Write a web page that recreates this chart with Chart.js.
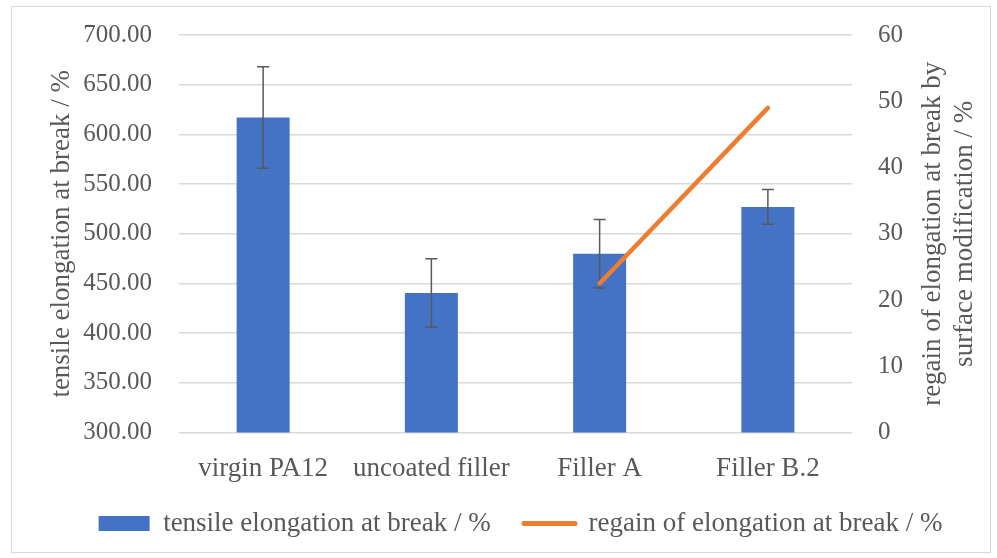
<!DOCTYPE html>
<html lang="en">
<head>
<meta charset="UTF-8">
<script src="https://cdn.jsdelivr.net/npm/chart.js"></script>
<title>Elongation at break</title>
<style>
    html, body { margin: 0; padding: 0; background: #fff; }
    #wrap { position: relative; width: 997px; height: 558px; }
    #frame { position: absolute; left: 11px; top: 6px; width: 978px; height: 545px; border: 1px solid #d9d9d9; }
    canvas { position: absolute; left: 0; top: 0; }
</style>
</head>
<body>
<div id="wrap">
    <div id="frame"></div>
    <canvas id="grafico" width="997" height="558"></canvas>
</div>
<script>
    // valores
    const categorias = ['virgin PA12', 'uncoated filler', 'Filler A', 'Filler B.2'];
    const alongamento = [617, 440.5, 480, 527];
    const desvio = [51, 34.5, 34.5, 17.5];
    const recuperacao = [null, null, 22.5, 49];
    const ticksEsq = [300, 350, 400, 450, 500, 550, 600, 650, 700];
    const ticksDir = [0, 10, 20, 30, 40, 50, 60];

    const cinza = '#595959';
    const fonte = 'Liberation Serif';

    const barrasErro = {
        id: 'barrasErro',
        afterDatasetDraw(chart, args) {
            if (args.index !== 0) return;
            const ctx = chart.ctx;
            const y = chart.scales.y;
            ctx.save();
            ctx.strokeStyle = cinza;
            ctx.lineWidth = 1.5;
            args.meta.data.forEach((barra, i) => {
                const topo = y.getPixelForValue(alongamento[i] + desvio[i]);
                const base = y.getPixelForValue(alongamento[i] - desvio[i]);
                ctx.beginPath();
                ctx.moveTo(barra.x, topo); ctx.lineTo(barra.x, base);
                ctx.moveTo(barra.x - 6, topo); ctx.lineTo(barra.x + 6, topo);
                ctx.moveTo(barra.x - 6, base); ctx.lineTo(barra.x + 6, base);
                ctx.stroke();
            });
            ctx.restore();
        }
    };

    // titulo do eixo direito, girado como o da esquerda
    const tituloDireita = {
        id: 'tituloDireita',
        afterDraw(chart) {
            const ctx = chart.ctx;
            const area = chart.chartArea;
            const meio = (area.top + area.bottom) / 2;
            ctx.save();
            ctx.fillStyle = cinza;
            ctx.font = '27px "' + fonte + '"';
            ctx.textAlign = 'center';
            ctx.textBaseline = 'middle';
            ctx.translate(area.right + 81, meio);
            ctx.rotate(-Math.PI / 2);
            ctx.fillText('regain of elongation at break by', 0, 0);
            ctx.fillText('surface modification / %', 0, 32);
            ctx.restore();
        }
    };

    new Chart(document.getElementById('grafico'), {
        type: 'bar',
        data: {
            labels: categorias,
            datasets: [{
                label: 'tensile elongation at break / %   ',
                data: alongamento,
                backgroundColor: '#4472C4',
                barPercentage: 0.315,
                categoryPercentage: 1,
                yAxisID: 'y',
                order: 1
            }, {
                type: 'line',
                label: 'regain of elongation at break / %',
                data: recuperacao,
                borderColor: '#ED7D31',
                backgroundColor: '#ED7D31',
                borderWidth: 4.5,
                borderCapStyle: 'round',
                pointRadius: 0,
                yAxisID: 'y1',
                order: 0
            }]
        },
        options: {
            responsive: false,
            animation: false,
            layout: { padding: { top: 35, bottom: 11, left: 44, right: 0 } },
            plugins: {
                tooltip: { enabled: false },
                legend: {
                    position: 'bottom',
                    labels: {
                        color: cinza,
                        font: { family: fonte, size: 27 },
                        usePointStyle: true,
                        pointStyleWidth: 51,
                        boxHeight: 15,
                        padding: 13,
                        generateLabels(chart) {
                            return chart.data.datasets.map((ds, i) => ({
                                text: ds.label,
                                datasetIndex: i,
                                fillStyle: ds.backgroundColor,
                                strokeStyle: ds.type === 'line' ? ds.borderColor : ds.backgroundColor,
                                lineWidth: ds.type === 'line' ? 5 : 0,
                                lineCap: 'round',
                                pointStyle: ds.type === 'line' ? 'line' : 'rect',
                                fontColor: cinza
                            }));
                        }
                    }
                }
            },
            scales: {
                x: {
                    grid: { display: false },
                    border: { display: false },
                    ticks: { color: cinza, font: { family: fonte, size: 27 }, padding: 12 }
                },
                y: {
                    position: 'left',
                    min: 300,
                    max: 700,
                    afterBuildTicks(eixo) { eixo.ticks = ticksEsq.map(v => ({ value: v })); },
                    afterFit(eixo) { eixo.width = 135; eixo.paddingTop = 0; eixo.paddingBottom = 0; },
                    grid: { color: '#d9d9d9', lineWidth: 1.5, drawTicks: false },
                    border: { display: false },
                    ticks: {
                        color: cinza,
                        font: { family: fonte, size: 25 },
                        padding: 27,
                        callback: v => v.toFixed(2)
                    },
                    title: {
                        display: true,
                        text: 'tensile elongation at break / %',
                        color: cinza,
                        font: { family: fonte, size: 27 },
                        padding: { top: 2, bottom: 0 }
                    }
                },
                y1: {
                    position: 'right',
                    min: 0,
                    max: 60,
                    afterBuildTicks(eixo) { eixo.ticks = ticksDir.map(v => ({ value: v })); },
                    afterFit(eixo) { eixo.width = 145; eixo.paddingTop = 0; eixo.paddingBottom = 0; },
                    grid: { display: false, drawTicks: false },
                    border: { display: false },
                    ticks: { color: cinza, font: { family: fonte, size: 25 }, padding: 26 }
                }
            }
        },
        plugins: [barrasErro, tituloDireita]
    });
</script>
</body>
</html>
